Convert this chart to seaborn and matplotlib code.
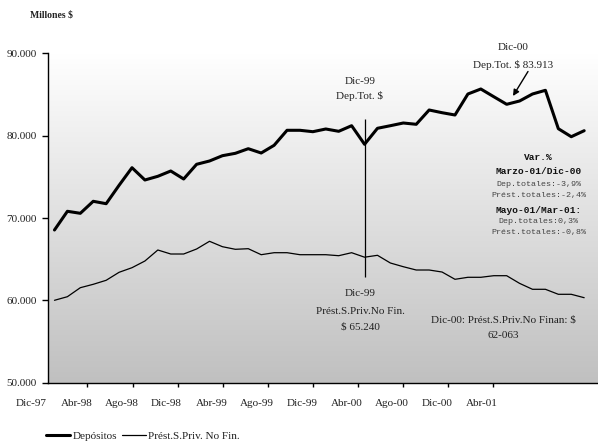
import numpy as np
import pandas as pd
import matplotlib
matplotlib.use("Agg")
import matplotlib.pyplot as plt
import seaborn as sns
from matplotlib.colors import LinearSegmentedColormap
from matplotlib.lines import Line2D
from matplotlib.ticker import FuncFormatter

# ---- data (millones $), monthly Dic-97 .. May-01 ----
depositos = [68543, 70814, 70570, 72028, 71737, 73971, 76108, 74615, 75064, 75707, 74736, 76521,
             76922, 77565, 77856, 78415, 77893, 78828, 80650, 80650, 80480, 80808, 80528, 81208,
             78950, 80893, 81208, 81536, 81378, 83115, 82787, 82507, 85058, 85665, 84730, 83807,
             84208, 85058, 85507, 80844, 79872, 80601]
prestamos = [60006, 60443, 61536, 61949, 62435, 63406, 63965, 64778, 66114, 65628, 65628, 66235,
             67171, 66515, 66199, 66272, 65543, 65786, 65786, 65543, 65543, 65543, 65422, 65786,
             65240, 65470, 64535, 64085, 63685, 63685, 63440, 62556, 62800, 62800, 62993, 62993,
             62063, 61342, 61342, 60735, 60735, 60322]
xlabels = ["Dic-97", "Abr-98", "Ago-98", "Dic-98", "Abr-99", "Ago-99", "Dic-99",
           "Abr-00", "Ago-00", "Dic-00", "Abr-01"]
yticks = [50000, 60000, 70000, 80000, 90000]
series_names = ["Depósitos", "Prést.S.Priv. No Fin."]

W, H = 598, 444
def P(px, py):
    return (px / W, 1 - py / H)

sns.set_style("white")
plt.rcParams["font.family"] = ["Liberation Serif", "DejaVu Serif"]
TXT = "#222222"

fig = plt.figure(figsize=(W / 100, H / 100), dpi=100)
ax = fig.add_axes([47.5 / W, 1 - 382.7 / H, 1 - 47.5 / W, 329.4 / H])

df = pd.DataFrame({"idx": np.arange(len(depositos)),
                   "dep": depositos, "pre": prestamos})

# gradient background
cmap = LinearSegmentedColormap.from_list("g", ["#c0c0c0", "#ffffff"])
ax.imshow(np.linspace(1, 0, 256).reshape(-1, 1), cmap=cmap, extent=[0, 1, 0, 1],
          transform=ax.transAxes, aspect="auto", zorder=0, vmin=0, vmax=1)

sns.lineplot(data=df, x="idx", y="dep", ax=ax, color="black", lw=2.2, zorder=3, legend=False)
sns.lineplot(data=df, x="idx", y="pre", ax=ax, color="black", lw=0.9, zorder=3, legend=False)

ax.set_xlim(-0.54, 42.07)
ax.set_ylim(50000, 90000)
ax.set_xlabel("")
ax.set_ylabel("")

for s in ["top", "right"]:
    ax.spines[s].set_visible(False)
for s in ["left", "bottom"]:
    ax.spines[s].set_color("black")
    ax.spines[s].set_linewidth(1)
    ax.spines[s].set_zorder(4)

ax.set_yticks(yticks)
ax.yaxis.set_major_formatter(FuncFormatter(lambda v, p: f"{v:,.0f}".replace(",", ".")))
ax.tick_params(axis="y", left=True, direction="out", length=4.5, width=1, pad=3.5,
               labelsize=8, labelcolor=TXT, color="black")

tick_pos = [2.55 + 3.49 * k for k in range(10)]
ax.set_xticks(tick_pos)
ax.set_xticklabels([])
ax.tick_params(axis="x", bottom=True, direction="out", length=3, width=1, color="black")

label_pos = [-1.79 + 3.49 * k for k in range(len(xlabels))]
from matplotlib.transforms import blended_transform_factory
tr = blended_transform_factory(ax.transData, ax.transAxes)
for xp, lab in zip(label_pos, xlabels):
    ax.text(xp, -0.0625, lab, transform=tr, ha="center", va="center",
            fontsize=8, color=TXT, clip_on=False)

# title
fig.text(*P(30, 15), "Millones $", fontsize=7, fontweight="bold", color=TXT,
         ha="left", va="center")

# annotations
fig.text(*P(360, 81), "Dic-99", ha="center", va="center", fontsize=8, color=TXT)
fig.text(*P(360, 96), "Dep.Tot. $", ha="center", va="center", fontsize=8, color=TXT)
ax.vlines(24, 81985, 62872, color="black", lw=0.9, zorder=5)

fig.text(*P(513, 47.5), "Dic-00", ha="center", va="center", fontsize=8, color=TXT)
fig.text(*P(513, 64.5), "Dep.Tot. $ 83.913", ha="center", va="center", fontsize=8, color=TXT)
ax.annotate("", xy=P(513, 96), xycoords="figure fraction",
            xytext=P(528, 71.5), textcoords="figure fraction",
            arrowprops=dict(arrowstyle="-|>", color="black", lw=1, mutation_scale=9,
                            shrinkA=0, shrinkB=0))

fig.text(*P(360, 294), "Dic-99", ha="center", va="center", fontsize=8, color=TXT)
fig.text(*P(360, 311), "Prést.S.Priv.No Fin.", ha="center", va="center", fontsize=8, color=TXT)
fig.text(*P(360, 327.5), "$ 65.240", ha="center", va="center", fontsize=8, color=TXT)

fig.text(*P(503, 320), "Dic-00: Prést.S.Priv.No Finan: $", ha="center", va="center",
         fontsize=8, color=TXT)
fig.text(*P(503, 335), "62-063", ha="center", va="center", fontsize=8, color=TXT)

mono = ["Liberation Mono", "DejaVu Sans Mono"]
var_lines = [("Var.%", 157.5, True), ("Marzo-01/Dic-00", 171, True),
             ("Dep.totales:-3,9%", 184, False), ("Prést.totales:-2,4%", 195.5, False),
             ("Mayo-01/Mar-01:", 210, True), ("Dep.totales:0,3%", 221, False),
             ("Prést.totales:-0,8%", 232.5, False)]
for t, py, b in var_lines:
    fig.text(*P(538.5, py), t, ha="center", va="center", family=mono,
             fontsize=6.8 if b else 6.0, fontweight="bold" if b else "normal",
             color="#111111" if b else "#444444")

# legend
handles = [Line2D([], [], color="black", lw=2.2), Line2D([], [], color="black", lw=0.9)]
fig.legend(handles, series_names, loc="center left", bbox_to_anchor=P(46, 436),
           ncol=2, frameon=False, fontsize=8, handlelength=2.2, handletextpad=0.2,
           columnspacing=0.4, borderaxespad=0, borderpad=0, labelcolor=TXT)

fig.savefig("out.png", dpi=100)
